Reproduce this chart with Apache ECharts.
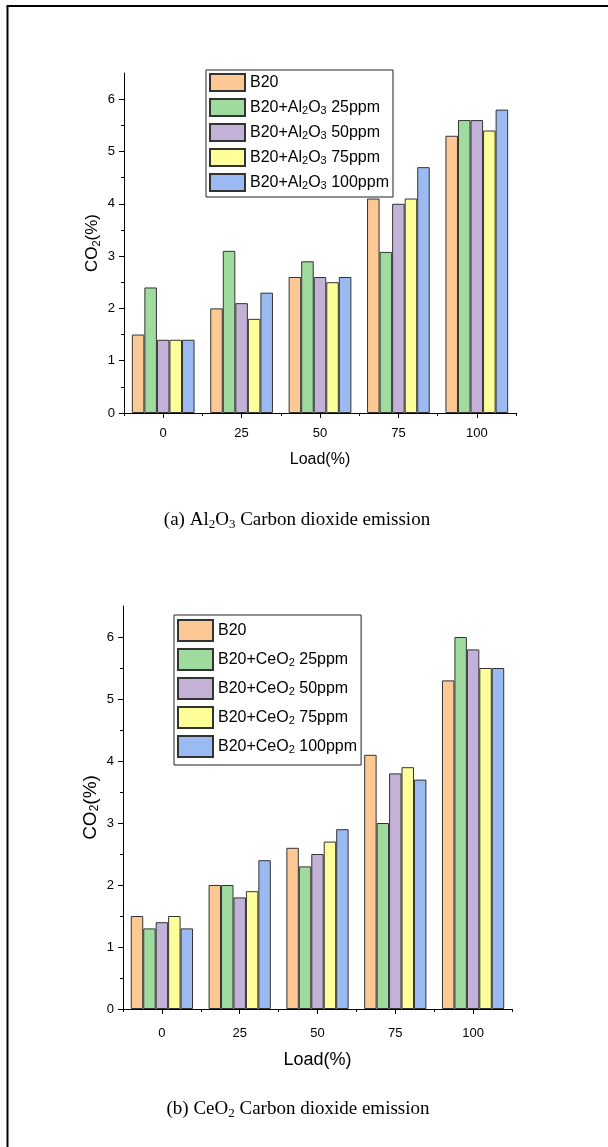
<!DOCTYPE html>
<html><head><meta charset="utf-8">
<script src="https://cdn.jsdelivr.net/npm/echarts@6/dist/echarts.min.js"></script>
<style>html,body{margin:0;padding:0;background:#fff}#c{width:608px;height:1147px}</style>
</head><body><div id="c"></div>
<script>
// ---- data ----
const loads = ['0', '25', '50', '75', '100'];
const yTicks = [0, 1, 2, 3, 4, 5, 6];
const yMinorTicks = [0.5, 1.5, 2.5, 3.5, 4.5, 5.5];
const alNames = ['B20', 'B20+Al2O3 25ppm', 'B20+Al2O3 50ppm', 'B20+Al2O3 75ppm', 'B20+Al2O3 100ppm'];
const ceNames = ['B20', 'B20+CeO2 25ppm', 'B20+CeO2 50ppm', 'B20+CeO2 75ppm', 'B20+CeO2 100ppm'];
const alB20 = [1.5, 2.0, 2.6, 4.1, 5.3];
const al25 = [2.4, 3.1, 2.9, 3.08, 5.6];
const al50 = [1.4, 2.1, 2.6, 4.0, 5.6];
const al75 = [1.4, 1.8, 2.5, 4.1, 5.4];
const al100 = [1.4, 2.3, 2.6, 4.7, 5.8];
const ceB20 = [1.5, 2.0, 2.6, 4.1, 5.3];
const ce25 = [1.3, 2.0, 2.3, 3.0, 6.0];
const ce50 = [1.4, 1.8, 2.5, 3.8, 5.8];
const ce75 = [1.5, 1.9, 2.7, 3.9, 5.5];
const ce100 = [1.3, 2.4, 2.9, 3.7, 5.5];

const colors = ['#FCC894', '#9FDA9F', '#C3B1D8', '#FFFF99', '#9CBAF2'];
const FONT = '"Liberation Sans", Arial, sans-serif';
const SERIF = '"Liberation Serif", "Times New Roman", serif';

function legendFmt(name) {
  if (name.includes('Al2O3')) {
    const p = name.split('Al2O3');
    return '{n|' + p[0] + 'Al}{s|2}{n|O}{s|3}{n|' + p[1] + '}';
  }
  if (name.includes('CeO2')) {
    const p = name.split('CeO2');
    return '{n|' + p[0] + 'CeO}{s|2}{n|' + p[1] + '}';
  }
  return '{n|' + name + '}';
}
const legendRich = {
  n: { fontSize: 16, fontFamily: FONT, color: '#000', lineHeight: 18 },
  s: { fontSize: 11, fontFamily: FONT, color: '#000', lineHeight: 6, verticalAlign: 'bottom' }
};

function makeAxes(gi, fontSz, nameSz, labMargin, nameGapX, nameGapY, yNameSz) {
  const xMain = {
    type: 'category', gridIndex: gi, data: loads, position: 'bottom',
    axisLine: { show: true, lineStyle: { color: '#000', width: 1 } },
    axisTick: { show: true, alignWithLabel: true, length: 5, lineStyle: { color: '#000' } },
    axisLabel: { fontSize: fontSz, fontFamily: FONT, color: '#000', margin: labMargin },
    splitLine: { show: false },
    name: 'Load(%)', nameLocation: 'middle', nameGap: nameGapX,
    nameTextStyle: { fontSize: nameSz, fontFamily: FONT, color: '#000' }
  };
  const xMinor = {
    type: 'category', gridIndex: gi, data: loads, position: 'bottom',
    axisLine: { show: false },
    axisTick: { show: true, alignWithLabel: false, length: 3, lineStyle: { color: '#000' } },
    axisLabel: { show: false }, splitLine: { show: false }
  };
  const yMain = {
    type: 'value', gridIndex: gi, min: 0, max: 6.5, interval: 1, position: 'left',
    axisLine: { show: true, lineStyle: { color: '#000', width: 1 } },
    axisTick: { show: true, length: 5, customValues: yTicks, lineStyle: { color: '#000' } },
    axisLabel: { customValues: yTicks, fontSize: fontSz, fontFamily: FONT, color: '#000', margin: 9 },
    splitLine: { show: false },
    name: '{n|CO}{s|2}{n|(%)}', nameLocation: 'middle', nameGap: nameGapY, nameRotate: 90,
    nameMoveOverlap: false,
    nameTextStyle: {
      rich: {
        n: { fontSize: yNameSz, fontFamily: FONT, color: '#000', lineHeight: 20 },
        s: { fontSize: Math.round(yNameSz * 0.65), fontFamily: FONT, color: '#000', lineHeight: 6, verticalAlign: 'bottom' }
      }
    }
  };
  const yMinor = {
    type: 'value', gridIndex: gi, min: 0, max: 6.5, interval: 0.5, position: 'left', offset: 0,
    axisLine: { show: false },
    axisTick: { show: true, length: 3, customValues: yMinorTicks, lineStyle: { color: '#000' } },
    axisLabel: { show: false }, splitLine: { show: false }
  };
  return { x: [xMain, xMinor], y: [yMain, yMinor] };
}

const a0 = makeAxes(0, 13, 16, 14, 39, 22, 17);
const a1 = makeAxes(1, 13, 18, 18, 42, 22, 19);

function mkSeries(names, arrs, xi, yi) {
  return names.map((nm, i) => ({
    type: 'bar', name: nm, xAxisIndex: xi, yAxisIndex: yi, data: arrs[i],
    barGap: '0%', barCategoryGap: '20%',
    itemStyle: { color: colors[i], borderColor: '#333', borderWidth: 1 },
    emphasis: { disabled: true }, animation: false
  }));
}

const series = [
  ...mkSeries(alNames, [alB20, al25, al50, al75, al100], 0, 0),
  ...mkSeries(ceNames, [ceB20, ce25, ce50, ce75, ce100], 2, 2)
];

const chart = echarts.init(document.getElementById('c'), null, { renderer: 'canvas' });
chart.setOption({
  backgroundColor: '#fff',
  animation: false,
  grid: [
    { left: 124, top: 73, width: 392, height: 340 },
    { left: 123, top: 606, width: 389, height: 403 }
  ],
  xAxis: [...a0.x, ...a1.x],
  yAxis: [...a0.y, ...a1.y],
  legend: [
    {
      data: alNames, orient: 'vertical', left: 206, top: 70,
      itemWidth: 35, itemHeight: 17, itemGap: 6, icon: 'rect',
      padding: [3, 4, 5, 3], borderColor: '#222', borderWidth: 1,
      backgroundColor: '#fff', selectedMode: false,
      formatter: legendFmt, textStyle: { rich: legendRich, padding: 0 }
    },
    {
      data: ceNames, orient: 'vertical', left: 174, top: 615,
      itemWidth: 35, itemHeight: 21, itemGap: 6, icon: 'rect',
      padding: [4, 4, 7, 3], borderColor: '#222', borderWidth: 1,
      backgroundColor: '#fff', selectedMode: false,
      formatter: legendFmt, textStyle: { rich: legendRich, padding: 0 }
    }
  ],
  series: series,
  graphic: [
    { type: 'line', shape: { x1: 7.5, y1: 6, x2: 7.5, y2: 1147 }, style: { stroke: '#000', lineWidth: 2 } },
    { type: 'line', shape: { x1: 6.5, y1: 6, x2: 608, y2: 6 }, style: { stroke: '#000', lineWidth: 2 } },
    {
      type: 'text', x: 297, y: 520,
      style: {
        text: '{n|(a) Al}{s|2}{n|O}{s|3}{n| Carbon dioxide emission}',
        align: 'center', verticalAlign: 'middle',
        rich: {
          n: { fontSize: 19, fontFamily: SERIF, fill: '#000', lineHeight: 22 },
          s: { fontSize: 13, fontFamily: SERIF, fill: '#000', lineHeight: 14, verticalAlign: 'bottom' }
        }
      }
    },
    {
      type: 'text', x: 298, y: 1109,
      style: {
        text: '{n|(b) CeO}{s|2}{n| Carbon dioxide emission}',
        align: 'center', verticalAlign: 'middle',
        rich: {
          n: { fontSize: 19, fontFamily: SERIF, fill: '#000', lineHeight: 22 },
          s: { fontSize: 13, fontFamily: SERIF, fill: '#000', lineHeight: 14, verticalAlign: 'bottom' }
        }
      }
    }
  ]
});
</script>
</body></html>
